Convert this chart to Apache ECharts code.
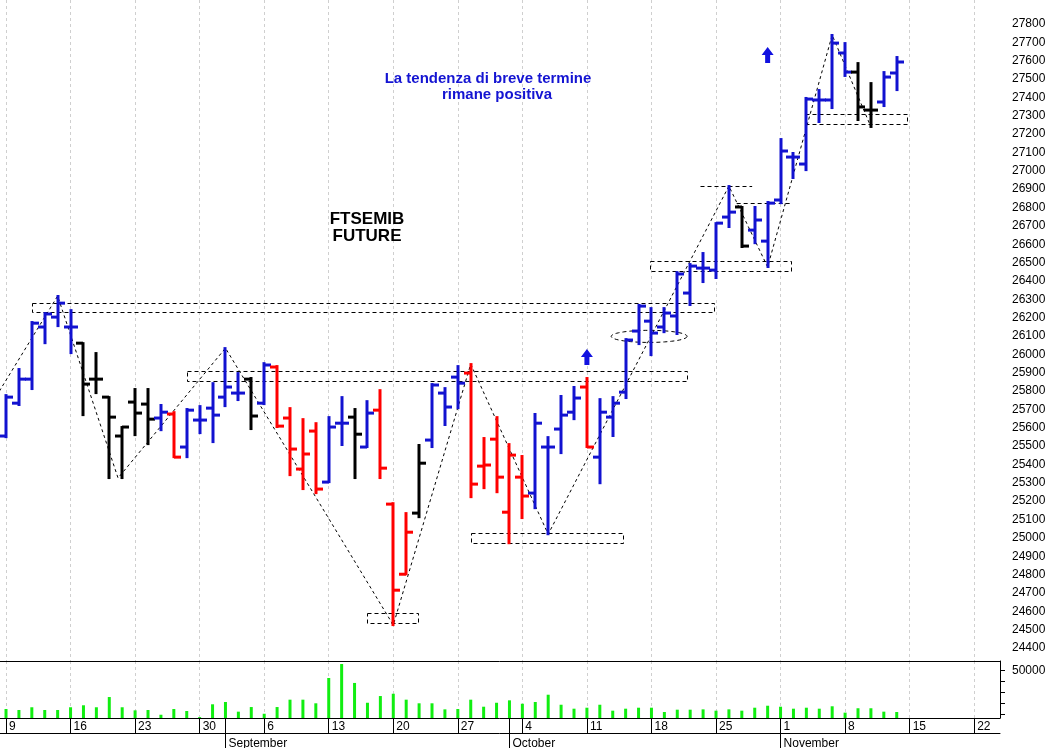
<!DOCTYPE html>
<html><head><meta charset="utf-8">
<script src="https://cdn.jsdelivr.net/npm/echarts@6/dist/echarts.min.js"></script>
<style>html,body{margin:0;padding:0;background:#fff}#c{width:1052px;height:748px}</style>
</head><body><div id="c"></div>
<script>
// ---- categories (trading days) ----
const dates = [
 '2010-08-06',
 '2010-08-09','2010-08-10','2010-08-11','2010-08-12','2010-08-13',
 '2010-08-16','2010-08-17','2010-08-18','2010-08-19','2010-08-20',
 '2010-08-23','2010-08-24','2010-08-25','2010-08-26','2010-08-27',
 '2010-08-30','2010-08-31','2010-09-01','2010-09-02','2010-09-03',
 '2010-09-06','2010-09-07','2010-09-08','2010-09-09','2010-09-10',
 '2010-09-13','2010-09-14','2010-09-15','2010-09-16','2010-09-17',
 '2010-09-20','2010-09-21','2010-09-22','2010-09-23','2010-09-24',
 '2010-09-27','2010-09-28','2010-09-29','2010-09-30','2010-10-01',
 '2010-10-04','2010-10-05','2010-10-06','2010-10-07','2010-10-08',
 '2010-10-11','2010-10-12','2010-10-13','2010-10-14','2010-10-15',
 '2010-10-18','2010-10-19','2010-10-20','2010-10-21','2010-10-22',
 '2010-10-25','2010-10-26','2010-10-27','2010-10-28','2010-10-29',
 '2010-11-01','2010-11-02','2010-11-03','2010-11-04','2010-11-05',
 '2010-11-08','2010-11-09','2010-11-10','2010-11-11','2010-11-12',
 '2010-11-15','2010-11-16','2010-11-17','2010-11-18','2010-11-19',
 '2010-11-22','2010-11-23','2010-11-24'
];
const monthNames = {'09':'September','10':'October','11':'November'};

// ---- OHLC values ----
const opens = [25740,
 25555,25734,25865,26149,26203, 26149,26061,25865,25767,25555,
 25740,25729,25653,25675,25495, 25642,25707,25767,25789,25865,
 25734,25931,25653,25375,25582, 25304,25625,25658,25495,25696,
 25184,24802,25135,25533,25789, 25876,25898,25391,25538,25140,
 25331,25244,25495,25593,25685, 25822,25440,25658,25794,26127,
 26181,26149,26209,26334,26470, 26459,26748,26803,26677,26617,
 26841,27075,27037,27386,27386, 27642,27538,27331,27375,27533];
const highs = [25795,
 25778,25920,26176,26225,26318, 26241,26061,26007,25767,25604,
 25811,25811,25724,25685,25702, 25718,25843,26034,25898,25871,
 25952,25936,25707,25647,25625, 25658,25767,25702,25745,25805,
 25189,25135,25506,25838,25816, 25936,25947,25544,25658,25511,
 25446,25675,25549,25773,25822, 25871,25756,25767,26083,26269,
 26252,26252,26448,26492,26552, 26715,26917,26803,26803,26830,
 27173,27097,27397,27440,27740, 27696,27587,27478,27538,27620];
const lows = [25620,
 25549,25724,25811,26061,26154, 26007,25669,25789,25326,25326,
 25560,25511,25587,25440,25440, 25571,25522,25718,25751,25593,
 25729,25604,25342,25266,25244, 25304,25506,25326,25495,25326,
 24525,24802,25113,25495,25615, 25707,25222,25271,25249,24971,
 25108,25162,25020,25462,25647, 25495,25298,25555,25762,26056,
 25996,26121,26111,26269,26394, 26416,26694,26585,26606,26476,
 26824,26961,27004,27266,27342, 27517,27277,27239,27353,27440];
const closes = [25658,
 25767,25865,26170,26220,26279, 26149,25838,25865,25658,25604,
 25680,25647,25685,25440,25696, 25642,25669,25822,25789,25664,
 25942,25609,25484,25457,25266, 25604,25625,25565,25680,25380,
 24715,25031,25407,25833,25713, 25843,25293,25397,25331,25451,
 25228,25625,25495,25669,25762, 25495,25685,25734,26078,26263,
 26116,26225,26438,26481,26470, 26715,26775,26590,26732,26824,
 27108,27075,27391,27386,27696, 27538,27348,27331,27511,27593];
// trend colour code per bar: b = blue, r = red, k = black
const trendCode = ['b',
 'b','b','b','b','b', 'b','k','k','k','k',
 'k','k','b','r','b', 'b','b','b','b','k',
 'b','r','r','r','r', 'b','b','k','b','r',
 'r','r','k','b','b', 'b','r','r','r','r',
 'r','b','b','b','b', 'r','b','b','b','b',
 'b','b','b','b','b', 'b','b','k','b','b',
 'b','b','b','b','b', 'b','k','k','b','b'];
// ---- volume ----
const volumes = [null,
 14800,13900,16400,13900,13900, 16400,18200,16400,25700,16400,
 13600,13900,9600,14800,13000, 7500,19100,21200,12400,16600,
 10500,16600,23300,23300,20000, 43000,55700,38500,20500,26600,
 28700,23300,20000,20000,14500, 14800,23300,16900,20500,22700,
 19600,21200,27800,18700,15100, 16000,18700,13300,15100,16000,
 16000,12100,14200,14200,14500, 13300,14500,13300,16000,17800,
 16900,15100,16000,15100,17300, 11500,15500,15500,12400,12100];
// ---- drawn annotations (in bar-index / price units) ----
const swingX = [0, 5, 9.68, 18, 31, 37, 43, 57, 60, 65, 68];
const swingP = [25744, 26318, 25326, 26034, 24525, 25947, 25020, 26917, 26476, 27740, 27239];
const boxX1 = [3.0, 15.0, 28.97, 37.03, 50.9, 62.9];
const boxX2 = [55.85, 53.76, 32.9, 48.8, 61.8, 70.8];
const boxLo = [26230, 25854, 24535, 24975, 26454, 27255];
const boxHi = [26279, 25911, 24590, 25028, 26508, 27310];
const levelX1 = [54.8, 57.6];
const levelX2 = [58.8, 61.9];
const levelP = [26917, 26823];
const ellipseC = [50.82, 26098]; const ellipseR = [2.94, 33];
const arrowIdx = [60, 46]; const arrowP = [27631, 25985];

const COLORS = {b:'#1212d0', r:'#ff0000', k:'#000000'};
const FONT = '"Liberation Sans", Arial, sans-serif';
const isMonday = d => new Date(d + 'T00:00:00Z').getUTCDay() === 1;
const isMonthStart = i => i > 0 && dates[i].slice(5,7) !== dates[i-1].slice(5,7);

const ohlc = opens.map((o,i) => [i, o, highs[i], lows[i], closes[i]]);
const volData = dates.map((d,i) => i < volumes.length ? volumes[i] : null);
const swing = swingX.map((x,i) => [x, swingP[i]]);
const boxes = boxX1.map((x,i) => [x, boxX2[i], boxLo[i], boxHi[i]]);
const levels = levelX1.map((x,i) => [x, levelX2[i], levelP[i]]);

const gridLine = {show:true, interval:(i,v)=>isMonday(v), lineStyle:{color:'#cfcfcf', width:1, type:[3,3]}};

const chart = echarts.init(document.getElementById('c'), null, {renderer:'canvas'});
chart.setOption({
  animation:false,
  backgroundColor:'#ffffff',
  grid:[{left:-6.9, right:52, top:0, height:661, outerBoundsMode:'none', containLabel:false},
        {left:-6.9, right:52, top:661, height:57, outerBoundsMode:'none', containLabel:false}],
  xAxis:[
    {type:'category', gridIndex:0, data:dates, boundaryGap:false,
     axisLine:{show:true, lineStyle:{color:'#000', width:1}}, axisTick:{show:false}, axisLabel:{show:false},
     splitLine:gridLine},
    {type:'category', gridIndex:1, data:dates, boundaryGap:false, position:'bottom',
     axisLine:{show:true, lineStyle:{color:'#000', width:1}},
     axisTick:{show:true, length:15, interval:(i,v)=>isMonday(v)||isMonthStart(i), lineStyle:{color:'#000'}},
     axisLabel:{show:true, interval:(i,v)=>isMonday(v), formatter:v=>String(+v.slice(8)), align:'left',
       padding:[0,0,0,3], margin:3, fontSize:12, color:'#000', fontFamily:FONT},
     splitLine:gridLine},
    {type:'category', gridIndex:1, data:dates, boundaryGap:false, position:'bottom', offset:15,
     axisLine:{show:true, lineStyle:{color:'#000', width:1}},
     axisTick:{show:true, length:15, interval:(i)=>isMonthStart(i), lineStyle:{color:'#000'}},
     axisLabel:{show:true, interval:(i)=>isMonthStart(i), formatter:v=>monthNames[v.slice(5,7)]||'', align:'left',
       padding:[0,0,0,3], margin:5, fontSize:12, color:'#000', fontFamily:FONT},
     splitLine:{show:false}},
    {type:'value', gridIndex:0, min:0, max:dates.length-1, show:false}
  ],
  yAxis:[
    {type:'value', gridIndex:0, position:'right', min:24329.2, max:27930.8, splitNumber:36,
     axisLine:{show:true, lineStyle:{color:'#000', width:1}},
     axisTick:{show:true, length:6, lineStyle:{color:'#000'}},
     minorTick:{show:true, splitNumber:2, length:3, lineStyle:{color:'#000'}},
     axisLabel:{show:true, margin:12, fontSize:12, color:'#000', fontFamily:FONT, showMinLabel:false, showMaxLabel:false,
       formatter:v=>(v>27850||v<24350)?'':String(Math.round(v))},
     splitLine:{show:false}},
    {type:'value', gridIndex:1, position:'right', min:6640, max:58450, splitNumber:5,
     axisLine:{show:true, lineStyle:{color:'#000', width:1}},
     axisTick:{show:true, length:5, lineStyle:{color:'#000'}},
     axisLabel:{show:true, margin:12, fontSize:12, color:'#000', fontFamily:FONT, showMinLabel:false, showMaxLabel:false,
       formatter:v=>Math.round(v)===50000?'50000':''},
     splitLine:{show:false}}
  ],
  graphic:[
    {type:'text', x:367, y:219, z:50, style:{text:'FTSEMIB', fill:'#000', font:'bold 17px '+FONT, align:'center', verticalAlign:'middle'}},
    {type:'text', x:367, y:236, z:50, style:{text:'FUTURE', fill:'#000', font:'bold 17px '+FONT, align:'center', verticalAlign:'middle'}},
    {type:'text', x:488, y:79, z:50, style:{text:'La tendenza di breve termine', fill:'#1414d2', font:'bold 15px '+FONT, align:'center', verticalAlign:'middle'}},
    {type:'text', x:497, y:95, z:50, style:{text:'rimane positiva', fill:'#1414d2', font:'bold 15px '+FONT, align:'center', verticalAlign:'middle'}}
  ],
  series:[
    {type:'custom', name:'swings-boxes', xAxisIndex:3, yAxisIndex:0, z:1, silent:true,
     data:boxes, encode:{x:[0,1], y:[2,3]},
     renderItem:function(params, api){
       const a = api.coord([api.value(0), api.value(3)]);
       const b = api.coord([api.value(1), api.value(2)]);
       return {type:'rect', shape:{x:Math.round(a[0])+0.5, y:Math.round(a[1])+0.5, width:Math.round(b[0]-a[0]), height:Math.round(b[1]-a[1])},
         style:{fill:'none', stroke:'#000', lineWidth:1, lineDash:[4,3]}};
     }},
    {type:'custom', name:'levels', xAxisIndex:3, yAxisIndex:0, z:1, silent:true,
     data:levels, encode:{x:[0,1], y:2},
     renderItem:function(params, api){
       const a = api.coord([api.value(0), api.value(2)]);
       const b = api.coord([api.value(1), api.value(2)]);
       const y = Math.round(a[1])+0.5;
       return {type:'line', shape:{x1:a[0], y1:y, x2:b[0], y2:y}, style:{stroke:'#000', lineWidth:1, lineDash:[4,3]}};
     }},
    {type:'custom', name:'ellipse', xAxisIndex:3, yAxisIndex:0, z:1, silent:true,
     data:[[ellipseC[0], ellipseC[1], ellipseR[0], ellipseR[1]]], encode:{x:0, y:1},
     renderItem:function(params, api){
       const c = api.coord([api.value(0), api.value(1)]);
       const rx = api.size([api.value(2), 0])[0];
       const ry = api.size([0, api.value(3)])[1];
       const pts = [];
       for (let k=0;k<=60;k++){ const t = k/60*Math.PI*2; pts.push([c[0]+rx*Math.cos(t), c[1]+ry*Math.sin(t)]); }
       return {type:'polyline', shape:{points:pts}, style:{fill:'none', stroke:'#000', lineWidth:1, lineDash:[4,3]}};
     }},
    {type:'line', name:'swing', xAxisIndex:3, yAxisIndex:0, z:2, silent:true, data:swing, symbol:'none',
     lineStyle:{color:'#000', width:1, type:[3,3]}},
    {type:'custom', name:'FTSEMIB', xAxisIndex:0, yAxisIndex:0, z:5,
     data:ohlc, encode:{x:0, y:[1,2,3,4]},
     renderItem:function(params, api){
       const i = api.value(0);
       const x = Math.round(api.coord([i, api.value(1)])[0]);
       const yo = api.coord([i, api.value(1)])[1];
       const yh = api.coord([i, api.value(2)])[1];
       const yl = api.coord([i, api.value(3)])[1];
       const yc = api.coord([i, api.value(4)])[1];
       const col = COLORS[trendCode[params.dataIndex]];
       const st = {stroke:col, lineWidth:3};
       return {type:'group', children:[
         {type:'line', shape:{x1:x, y1:yh-1, x2:x, y2:yl+1}, style:st},
         {type:'line', shape:{x1:x-7, y1:yo, x2:x, y2:yo}, style:st},
         {type:'line', shape:{x1:x, y1:yc, x2:x+7, y2:yc}, style:st}
       ]};
     },
     markPoint:{symbol:'path://M6,0 L12,8 L8.5,8 L8.5,16 L3.5,16 L3.5,8 L0,8 Z', symbolSize:[12,16],
       itemStyle:{color:'#1212e0'}, label:{show:false}, silent:true,
       data:arrowIdx.map((k,j)=>({coord:[dates[k], arrowP[j]]}))}
    },
    {type:'bar', name:'Volume', xAxisIndex:1, yAxisIndex:1, data:volData, barWidth:3,
     itemStyle:{color:'#11ee11'}}
  ]
});
</script>
</body></html>
